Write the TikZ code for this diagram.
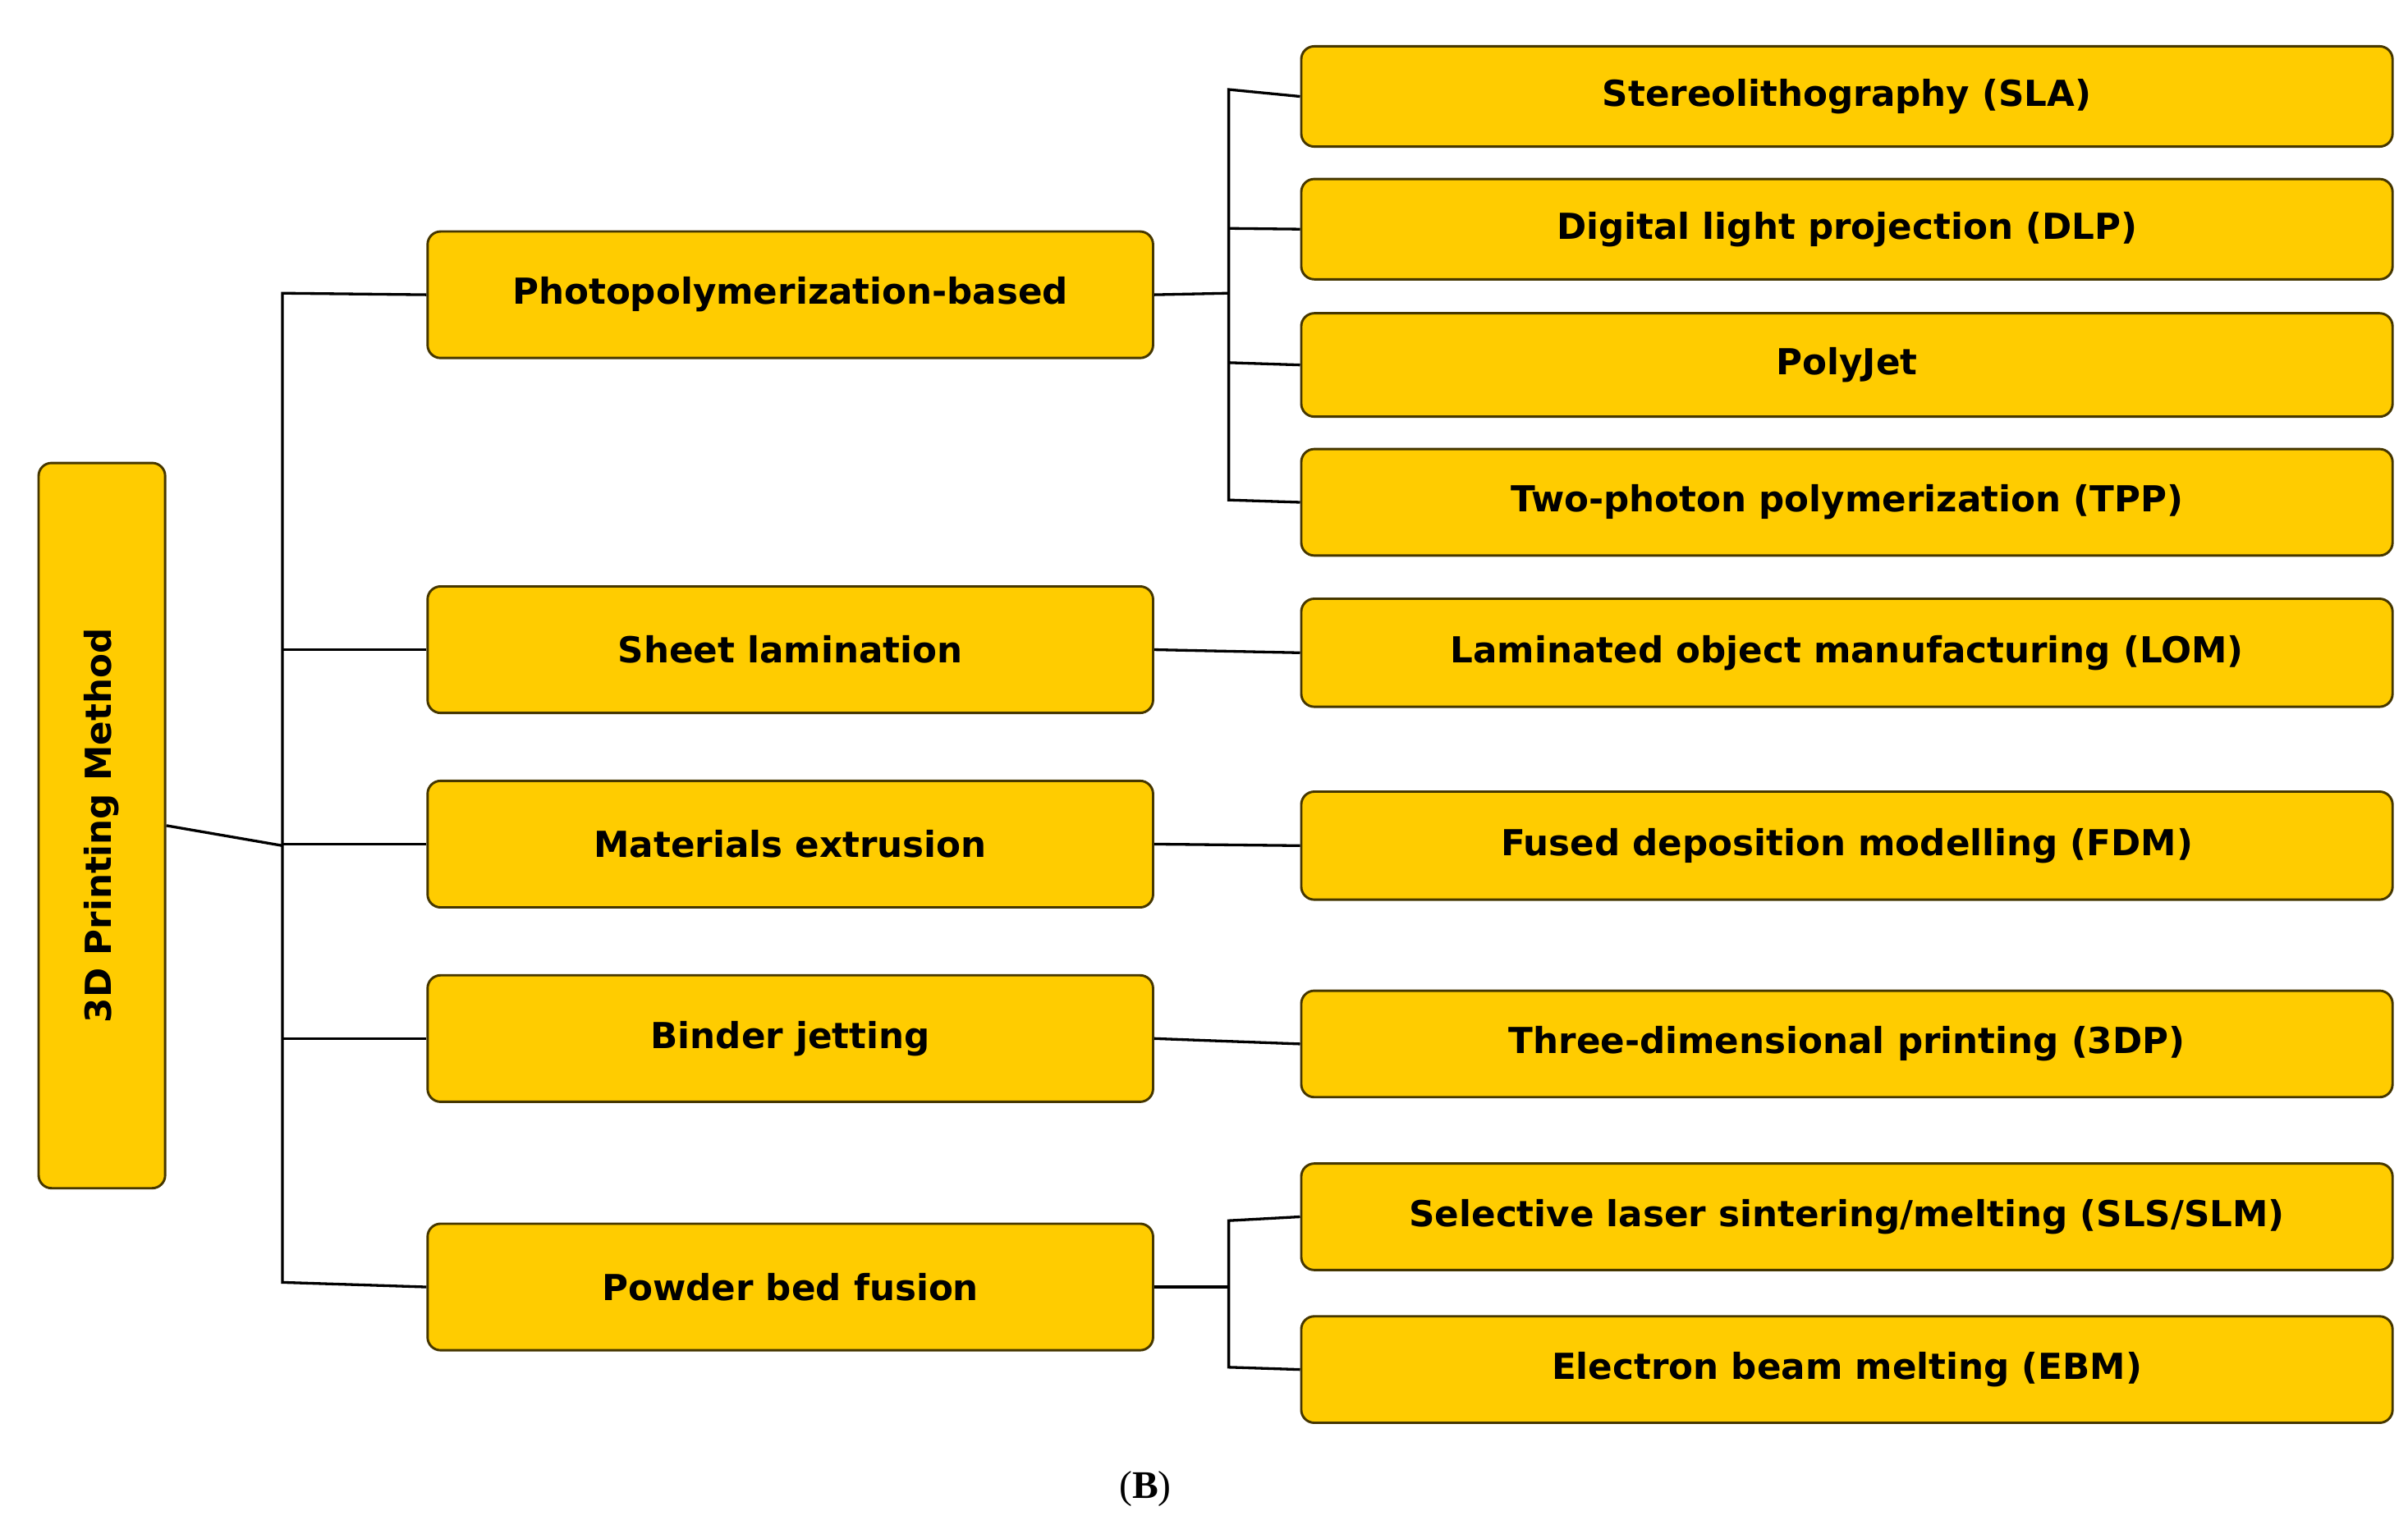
\documentclass[tikz,border=0pt]{standalone}
\usepackage{fontspec}
\setmainfont{DejaVu Sans}
\newfontfamily\capfont{Liberation Serif}
\definecolor{gold}{RGB}{255,204,0}
\definecolor{edge}{RGB}{70,55,0}
\begin{document}
\begin{tikzpicture}[x=0.05cm,y=-0.05cm,
  box/.style={draw=edge,line width=2.2pt,fill=gold,rounded corners=12pt,inner sep=0pt,
    font=\fontsize{33}{36}\selectfont\bfseries},
  ln/.style={line width=2.5pt,black}]
\useasboundingbox (0,0) rectangle (1560,993.6);
\newcommand\bx[6]{\node[box,minimum width={(#4-#2)*0.05cm},minimum height={(#5-#3)*0.05cm}] (#1) at ({(#2+#4)/2},{(#3+#5)/2}) {#6};}
\node[box,minimum width={82*0.05cm},minimum height={470*0.05cm}] (root) at (66,535) {};
\node[font=\fontsize{33}{36}\selectfont\bfseries,rotate=90] at (root) {3D Printing Method};
\bx{ph}{277}{150}{747}{232}{Photopolymerization-based}
\bx{sh}{277}{380}{747}{462}{Sheet lamination}
\bx{me}{277}{506}{747}{588}{Materials extrusion}
\bx{bj}{277}{632}{747}{714}{Binder jetting}
\bx{pb}{277}{793}{747}{875}{Powder bed fusion}
\bx{sla}{843}{30}{1550}{95}{Stereolithography (SLA)}
\bx{dlp}{843}{116}{1550}{181}{Digital light projection (DLP)}
\bx{pj}{843}{203}{1550}{270}{PolyJet}
\bx{tpp}{843}{291}{1550}{360}{Two-photon polymerization (TPP)}
\bx{lom}{843}{388}{1550}{458}{Laminated object manufacturing (LOM)}
\bx{fdm}{843}{513}{1550}{583}{Fused deposition modelling (FDM)}
\bx{tdp}{843}{642}{1550}{711}{Three-dimensional printing (3DP)}
\bx{sls}{843}{754}{1550}{823}{Selective laser sintering/melting (SLS/SLM)}
\bx{ebm}{843}{853}{1550}{922}{Electron beam melting (EBM)}
\coordinate (t1) at (183,190);
\coordinate (t2) at (183,831);
\draw[ln] (root.east) -- (183,548);
\draw[ln] (ph.west) -- (t1) -- (t2) -- (pb.west);
\draw[ln] (sh.west) -- (183,421);
\draw[ln] (me.west) -- (183,547);
\draw[ln] (bj.west) -- (183,673);
\draw[ln] (ph.east) -- (796,190);
\draw[ln] (sla.west) -- (796,58) -- (796,324) -- (tpp.west);
\draw[ln] (dlp.west) -- (796,148);
\draw[ln] (pj.west) -- (796,235);
\draw[ln] (sh.east) -- (lom.west);
\draw[ln] (me.east) -- (fdm.west);
\draw[ln] (bj.east) -- (tdp.west);
\draw[ln] (pb.east) -- (796,834);
\draw[ln] (sls.west) -- (796,791) -- (796,886) -- (ebm.west);
\node[font=\capfont\fontsize{36}{40}\selectfont] (cap) at (742,965) {(\textbf{B})};
\end{tikzpicture}
\end{document}
